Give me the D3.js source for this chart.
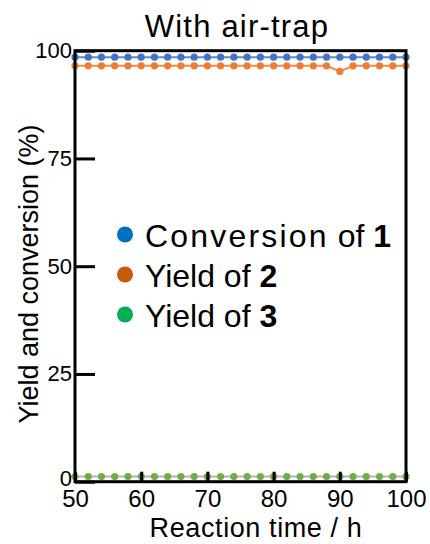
<!DOCTYPE html>
<html>
<head>
<meta charset="utf-8">
<script src="https://cdn.jsdelivr.net/npm/d3@7"></script>
<style>
  html, body { margin: 0; padding: 0; background: #fff; }
  svg { display: block; font-family: "Liberation Sans", Arial, sans-serif; }
  text { white-space: pre; }
</style>
</head>
<body>
<svg id="chart" width="430" height="544"></svg>
<script>
// ---- data ----
const times = [50, 52, 54, 56, 58, 60, 62, 64, 66, 68, 70, 72, 74, 76, 78, 80, 82, 84, 86, 88, 90, 92, 94, 96, 98, 100];
const conversion1 = [98.5, 98.5, 98.5, 98.5, 98.5, 98.5, 98.5, 98.5, 98.5, 98.5, 98.5, 98.5, 98.5, 98.5, 98.5, 98.5, 98.5, 98.5, 98.5, 98.5, 98.5, 98.5, 98.5, 98.5, 98.5, 98.5];
const yield2 = [96.5, 96.5, 96.5, 96.5, 96.5, 96.5, 96.5, 96.5, 96.5, 96.5, 96.5, 96.5, 96.5, 96.5, 96.5, 96.5, 96.5, 96.5, 96.5, 96.5, 95.2, 96.5, 96.5, 96.5, 96.5, 96.5];
const yield3 = [1.2, 1.2, 1.2, 1.2, 1.2, 1.2, 1.2, 1.2, 1.2, 1.2, 1.2, 1.2, 1.2, 1.2, 1.2, 1.2, 1.2, 1.2, 1.2, 1.2, 1.2, 1.2, 1.2, 1.2, 1.2, 1.2];
const xTicks = [50, 60, 70, 80, 90, 100];
const yTicks = [0, 25, 50, 75, 100];
const legendWords = ["Conversion", "Yield", "Yield"];
const legendMid = " of ";
const legendBold = ["1", "2", "3"];

// ---- styles ----
const seriesStyle = [
  { values: conversion1, line: "#5b86d8", point: "#4472c4", legend: "#0070c0", ls: 2.2 },
  { values: yield2, line: "#f08a4b", point: "#ed7d31", legend: "#c55a11", ls: 0 },
  { values: yield3, line: "#b4b4b4", point: "#70ad47", legend: "#00b050", ls: 0 }
];

const svg = d3.select("#chart");
const margin = { left: 75, right: 24, top: 50.7, bottom: 62.3 };
const W = 430, H = 544;
const x = d3.scaleLinear().domain([50, 100]).range([margin.left, W - margin.right]);
const y = d3.scaleLinear().domain([0, 100]).range([H - margin.bottom, margin.top]);

// series lines + points
const lineGen = d3.line().x((d, i) => x(times[i])).y(d => y(d));
seriesStyle.slice().reverse().forEach(s => {
  svg.append("path")
    .attr("d", lineGen(s.values))
    .attr("fill", "none")
    .attr("stroke", s.line)
    .attr("stroke-width", 2);
  svg.append("g").selectAll("circle")
    .data(s.values)
    .join("circle")
    .attr("cx", (d, i) => x(times[i]))
    .attr("cy", d => y(d))
    .attr("r", 3.6)
    .attr("fill", s.point);
});

// axes
const yAxis = d3.axisLeft(y).tickValues(yTicks).tickSizeInner(-20).tickSizeOuter(0).tickPadding(3);
const gy = svg.append("g").attr("transform", `translate(${margin.left},0)`).call(yAxis);
gy.select(".domain").remove();
gy.selectAll(".tick line").attr("stroke", "#000").attr("stroke-width", 3);
gy.selectAll(".tick text").attr("font-size", 22).attr("fill", "#000")
  .attr("font-family", "'Liberation Sans', Arial, sans-serif")
  .attr("y", d => d === 0 ? -3 : 0);

const xAxis = d3.axisBottom(x).tickValues(xTicks).tickSizeInner(-10).tickSizeOuter(0).tickPadding(8);
const gx = svg.append("g").attr("transform", `translate(0,${H - margin.bottom})`).call(xAxis);
gx.select(".domain").remove();
gx.selectAll(".tick line").attr("stroke", "#000").attr("stroke-width", 3);
gx.selectAll(".tick text").attr("font-size", 24).attr("fill", "#000")
  .attr("font-family", "'Liberation Sans', Arial, sans-serif");

// frame
svg.append("rect")
  .attr("x", x(50)).attr("y", y(100))
  .attr("width", x(100) - x(50)).attr("height", y(0) - y(100))
  .attr("fill", "none").attr("stroke", "#000").attr("stroke-width", 3);

// title
svg.append("text")
  .attr("x", 237).attr("y", 37)
  .attr("text-anchor", "middle")
  .attr("font-size", 31).attr("letter-spacing", 1.2)
  .text("With air-trap");

// x label
svg.append("text")
  .attr("x", 256).attr("y", 537)
  .attr("text-anchor", "middle")
  .attr("font-size", 27).attr("letter-spacing", 0.6)
  .text("Reaction time / h");

// y label
svg.append("text")
  .attr("transform", "translate(38,274) rotate(-90)")
  .attr("text-anchor", "middle")
  .attr("font-size", 27)
  .text("Yield and conversion (%)");

// legend
const lg = svg.append("g");
seriesStyle.forEach((s, i) => {
  const by = 247 + i * 40;
  lg.append("circle").attr("cx", 125).attr("cy", by - 12.5).attr("r", 8).attr("fill", s.legend);
  const t = lg.append("text").attr("x", 145).attr("y", by).attr("font-size", 32);
  t.append("tspan").attr("letter-spacing", s.ls).text(legendWords[i]);
  t.append("tspan").text(legendMid);
  t.append("tspan").attr("font-weight", "bold").text(legendBold[i]);
});
</script>
</body>
</html>
